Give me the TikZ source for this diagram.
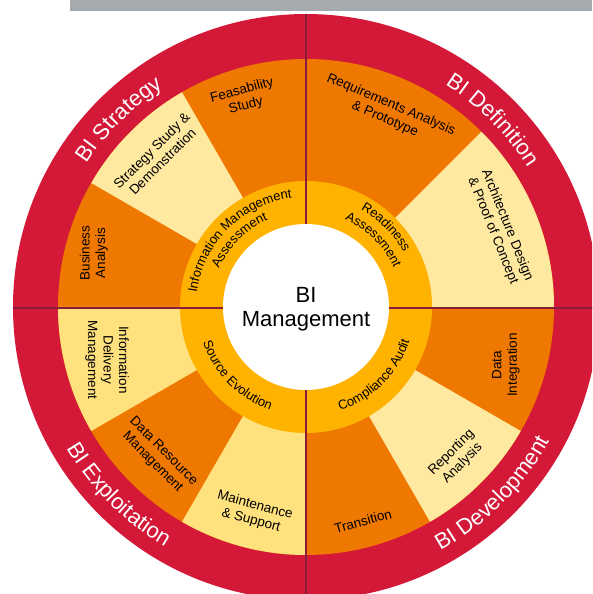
\documentclass[tikz,border=0pt]{standalone}
\usepackage{fontspec}
\setmainfont{Liberation Sans}
\usetikzlibrary{decorations.text}
\definecolor{ringred}{HTML}{D41838}
\definecolor{segdark}{HTML}{EF7800}
\definecolor{segpale}{HTML}{FFE9A0}
\definecolor{segyellow}{HTML}{FFE17E}
\definecolor{innerring}{HTML}{FFB300}
\definecolor{divider}{HTML}{8C1C3C}
\definecolor{topbar}{HTML}{A5AAAE}
\newcommand\segfont{\fontsize{13.5}{15.5}\selectfont}
\newcommand\innerfont{\fontsize{13}{15}\selectfont}
\newcommand\titlefont{\fontsize{22}{26}\selectfont}
\newcommand\centrefont{\fontsize{22}{24}\selectfont}
\begin{document}
\begin{tikzpicture}[x=1pt,y=1pt,
  seglabel/.style={align=center,font=\segfont,text=black,inner sep=0pt},
  ringtitle/.style={decorate,decoration={text along path,text color=white,
     text={|\titlefont|#1},text align=center}},
  ringtext/.style={decorate,decoration={text along path,text color=black,
     text={|\innerfont|#1},text align=center}},
  divline/.style={draw=divider,line width=2.6pt}]
\useasboundingbox (-306,-287) rectangle (286,307);
\clip (-306,-287) rectangle (286,307);
% top grey bar
\fill[topbar] (-236,296) rectangle (286,307);
% outer red ring
\fill[ringred] (0,0) circle[radius=293];
% segment ring
\fill[segdark] (0,0) circle[radius=248];
\fill[segpale] (0,0) -- (120:248) arc[start angle=120,end angle=150,radius=248] -- cycle;
\fill[segyellow] (0,0) -- (180:248) arc[start angle=180,end angle=210,radius=248] -- cycle;
\fill[segyellow] (0,0) -- (240:248) arc[start angle=240,end angle=270,radius=248] -- cycle;
\fill[segpale] (0,0) -- (300:248) arc[start angle=300,end angle=330,radius=248] -- cycle;
\fill[segpale] (0,0) -- (0:248) arc[start angle=0,end angle=45,radius=248] -- cycle;
% inner ring
\fill[innerring] (0,0) circle[radius=126];
% dividers
\coordinate (vtop) at (0,293);
\coordinate (vbot) at (0,-293);
\coordinate (hleft) at (-293,-1);
\coordinate (hright) at (293,-1);
\draw[divline] (vtop) -- (vbot);
\draw[divline] (hleft) -- (hright);
% centre
\fill[white] (0,0) circle[radius=83];
\node[align=center,font=\centrefont,inner sep=0pt] (centre) at (0,-2) {BI\\Management};
% segment labels
\node[seglabel,rotate=15] (feas) at (-62,209) {Feasability\\Study};
\node[seglabel,rotate=45] (strat) at (-149,151) {Strategy Study \&\\Demonstration};
\node[seglabel,rotate=90] (busi) at (-212,54) {Business\\Analysis};
\node[seglabel,rotate=-23] (req) at (82,195) {Requirements Analysis\\\& Prototype};
\node[seglabel,rotate=-68] (arch) at (194,79) {Architecture Design\\\& Proof of Concept};
\node[seglabel,rotate=90] (dint) at (200,-58) {Data\\Integration};
\node[seglabel,rotate=45] (rep) at (151,-151) {Reporting\\Analysis};
\node[seglabel,rotate=15] (trans) at (57,-214) {Transition};
\node[seglabel,rotate=-15] (maint) at (-53,-206) {Maintenance\\\& Support};
\node[seglabel,rotate=-45] (dres) at (-148,-150) {Data Resource\\Management};
\node[seglabel,rotate=-90] (idel) at (-199,-53) {Information\\Delivery\\Management};
% inner ring texts
\path[ringtext={Information Management}] (180:110) arc[start angle=180,end angle=90,radius=110];
\path[ringtext={Assessment}] (180:95) arc[start angle=180,end angle=90,radius=95];
\path[ringtext={Readiness}] (90:112) arc[start angle=90,end angle=0,radius=112];
\path[ringtext={Assessment}] (90:96) arc[start angle=90,end angle=0,radius=96];
\path[ringtext={Compliance Audit}] (270:109) arc[start angle=270,end angle=360,radius=109];
\path[ringtext={Source Evolution}] (180:109) arc[start angle=180,end angle=270,radius=109];
% outer titles
\path[ringtitle={BI Strategy}] (180:262) arc[start angle=180,end angle=90,radius=262];
\path[ringtitle={BI Definition}] (90:262) arc[start angle=90,end angle=0,radius=262];
\path[ringtitle={BI Development}] (270:278) arc[start angle=270,end angle=360,radius=278];
\path[ringtitle={BI Exploitation}] (180:278) arc[start angle=180,end angle=270,radius=278];
\end{tikzpicture}
\end{document}
